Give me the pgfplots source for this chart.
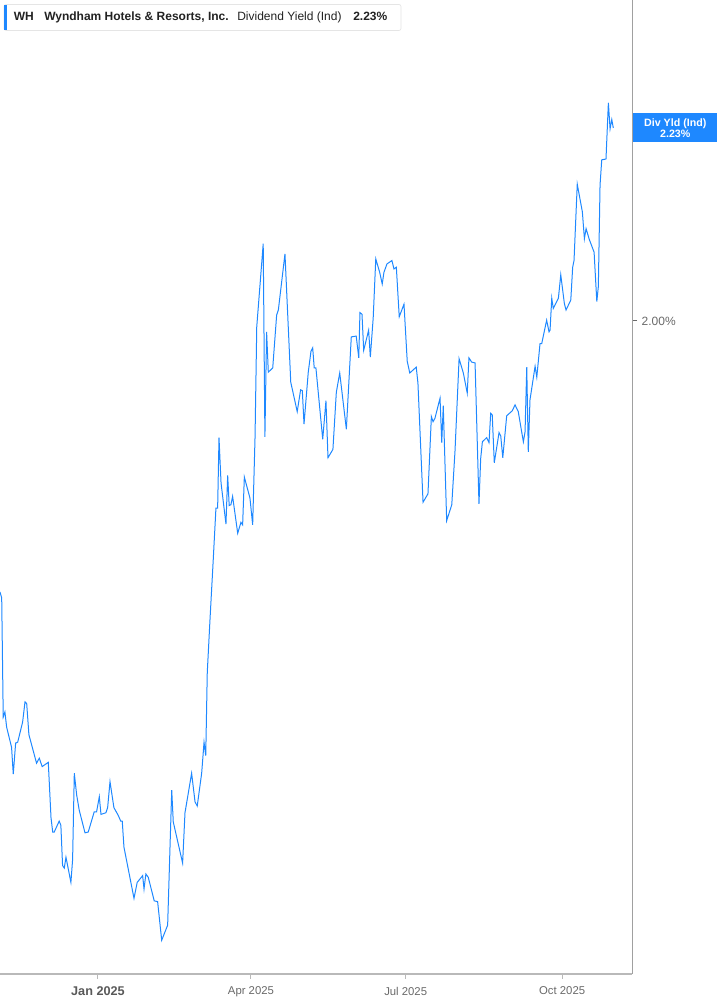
\documentclass[border=0pt]{standalone}
\usepackage{pgfplots}
\pgfplotsset{compat=1.18}
\usepackage{fontspec}
\setmainfont{Liberation Sans}
\definecolor{ycblue}{RGB}{30,136,255}
\definecolor{axisgray}{RGB}{185,185,185}
\definecolor{rightgray}{RGB}{160,160,160}
\definecolor{labelgray}{RGB}{105,105,105}
\definecolor{txtdark}{RGB}{34,34,34}

\begin{document}
\begin{tikzpicture}
% page frame, 717 x 1005 px at 0.75pt per px
\path[use as bounding box] (0,-23.25pt) rectangle (537.75pt,730.5pt);
\begin{axis}[
  at={(0,0)}, anchor=south west,
  scale only axis, width=474pt, height=730.5pt,
  xmin=-57.6, xmax=314.1, ymin=1.2218, ymax=2.3825,
  clip=false,
  axis x line*=bottom, axis y line*=right,
  x axis line style={draw=axisgray, line width=1.5pt, -},
  y axis line style={draw=rightgray, line width=0.75pt, -},
  tick align=outside, major tick length=3.75pt,
  xtick style={draw=axisgray, line width=0.75pt},
  ytick style={draw=labelgray, line width=0.75pt},
  xtick={0,90,181,273},
  xticklabels={{\fontsize{9.5}{11}\selectfont\bfseries\color{labelgray!85!black}Jan 2025}, Apr 2025, Jul 2025, Oct 2025},
  xticklabel style={font=\fontsize{8.5}{10}\selectfont, text=labelgray, yshift=-2.5pt},
  ytick={2},
  yticklabels={2.00\%},
  yticklabel style={font=\fontsize{9}{11}\selectfont, text=labelgray},
]
\addplot[color=ycblue, line width=0.75pt, mark=none] coordinates {
(-57.6,1.677) (-56.6,1.670) (-55.7,1.528) (-54.7,1.534) (-53.7,1.516)
(-50.8,1.492) (-49.8,1.460) (-48.4,1.497) (-47.2,1.498) (-44.3,1.522)
(-42.9,1.546) (-41.9,1.544) (-40.6,1.507) (-36.1,1.473) (-34.5,1.479)
(-32.8,1.469) (-29.2,1.474) (-27.6,1.408) (-26.6,1.391) (-25.7,1.391)
(-22.8,1.404) (-21.8,1.399) (-20.8,1.351) (-19.8,1.348) (-18.8,1.361)
(-15.9,1.331) (-14.9,1.358) (-13.9,1.461) (-12.5,1.435) (-11.0,1.417)
(-7.6,1.390) (-5.7,1.391) (-2.2,1.415) (-0.8,1.415) (0.8,1.433)
(1.8,1.412) (4.7,1.414) (5.7,1.420) (7.1,1.451) (9.4,1.420)
(11.9,1.411) (13.4,1.404) (14.3,1.404) (15.3,1.373) (21.2,1.312)
(23.1,1.331) (26.3,1.339) (27.1,1.323) (28.2,1.341) (29.6,1.337)
(33.1,1.309) (35.1,1.308) (37.5,1.262) (41.0,1.280) (43.4,1.441)
(44.3,1.403) (49.8,1.354) (51.2,1.414) (55.1,1.461) (57.1,1.427)
(58.4,1.422) (61.0,1.461) (62.4,1.498) (63.4,1.482) (64.3,1.581)
(65.9,1.644) (67.8,1.715) (69.4,1.777) (70.4,1.777) (71.2,1.861)
(72.4,1.807) (75.3,1.758) (76.3,1.816) (77.2,1.780) (78.2,1.781)
(79.2,1.791) (82.2,1.747) (84.1,1.760) (85.1,1.757) (86.1,1.814)
(89.4,1.789) (91.0,1.757) (92.4,1.862) (93.4,1.993) (97.2,2.092)
(98.2,1.862) (99.2,1.987) (100.2,1.939) (102.8,1.944) (105.1,2.007)
(106.1,2.013) (110.0,2.080) (113.4,1.927) (117.2,1.892) (119.2,1.918)
(120.2,1.917) (121.2,1.877) (123.7,1.939) (125.3,1.964) (126.3,1.968)
(127.2,1.944) (128.2,1.944) (132.2,1.859) (134.1,1.905) (135.3,1.837)
(138.2,1.847) (140.2,1.915) (142.2,1.938) (146.1,1.871) (149.0,1.981)
(151.9,1.982) (153.4,1.956) (154.1,2.010) (155.3,2.008) (156.3,1.965)
(159.2,1.989) (160.2,1.957) (161.9,2.004) (163.4,2.074) (165.7,2.058)
(167.2,2.044) (168.2,2.058) (170.0,2.068) (172.9,2.072) (174.1,2.062)
(175.5,2.064) (177.2,2.005) (180.0,2.020) (181.9,1.952) (183.4,1.938)
(187.2,1.945) (188.2,1.926) (191.2,1.784) (194.1,1.794) (196.1,1.886)
(197.1,1.880) (198.2,1.884) (201.2,1.908) (202.2,1.855) (203.1,1.899)
(205.1,1.762) (208.1,1.781) (210.0,1.845) (212.4,1.955) (214.9,1.938)
(217.2,1.914) (218.2,1.956) (219.8,1.951) (221.8,1.950) (224.1,1.782)
(225.1,1.836) (226.1,1.856) (228.6,1.861) (230.0,1.855) (231.0,1.890)
(231.9,1.888) (233.1,1.831) (235.9,1.867) (236.9,1.863) (238.1,1.837)
(240.4,1.887) (243.7,1.893) (245.3,1.900) (247.2,1.892) (250.2,1.856)
(251.2,1.868) (252.2,1.945) (253.1,1.844) (254.1,1.906) (257.1,1.946)
(258.1,1.933) (260.0,1.973) (261.0,1.973) (263.9,2.001) (265.3,1.987)
(265.9,1.989) (266.9,2.027) (267.8,2.015) (270.8,2.027) (272.2,2.055)
(274.3,2.021) (275.3,2.013) (278.1,2.025) (279.2,2.064) (280.0,2.072)
(281.9,2.163) (284.9,2.130) (286.1,2.098) (287.1,2.110) (289.0,2.097)
(291.8,2.082) (293.4,2.023) (294.3,2.041) (295.3,2.162) (296.3,2.192)
(298.8,2.193) (300.2,2.260) (301.2,2.229) (302.2,2.240) (303.1,2.230)
};
\node[anchor=west, xshift=0.75pt, fill=ycblue, text=white, minimum width=63pt,
  minimum height=21.75pt, inner sep=0pt, align=center,
  font=\fontsize{8}{8.25}\selectfont\bfseries] at (axis cs:314.1,2.23) {Div Yld (Ind)\\2.23\%};
\end{axis}
% header box, coordinates in px from the plot's bottom-left corner
\begin{scope}[x=0.75pt,y=0.75pt]
\draw[draw=black!10, fill=white, line width=0.5pt, rounded corners=1.5pt] (4,969.5) rectangle (401,943.5);
\fill[ycblue] (4,969) rectangle (7,944);
\node[anchor=base west, inner sep=0pt, text=txtdark, font=\fontsize{9}{11}\selectfont\bfseries] at (13.5,953.2) {WH};
\node[anchor=base west, inner sep=0pt, text=txtdark, font=\fontsize{9}{11}\selectfont\bfseries] at (44,953.2) {Wyndham Hotels \& Resorts, Inc.};
\node[anchor=base west, inner sep=0pt, text=txtdark, font=\fontsize{9}{11}\selectfont] at (237,953.2) {Dividend Yield (Ind)};
\node[anchor=base west, inner sep=0pt, text=txtdark, font=\fontsize{9}{11}\selectfont\bfseries] at (353,953.2) {2.23\%};
\end{scope}
\end{tikzpicture}
\end{document}
